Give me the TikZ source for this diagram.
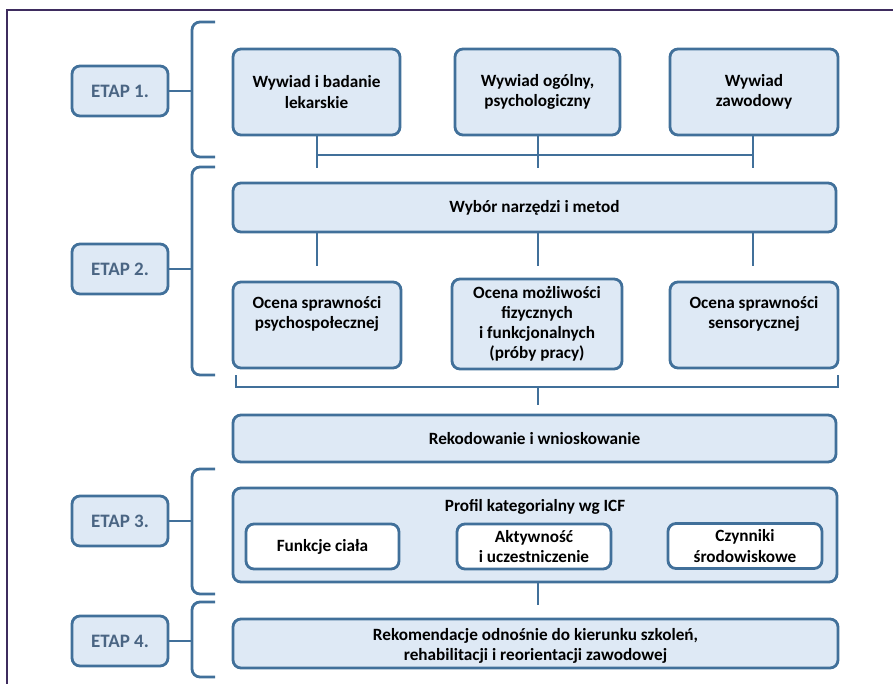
\documentclass[tikz,border=0pt]{standalone}
\usepackage{fontspec}
\setmainfont{Carlito}
\definecolor{lineblue}{HTML}{41709A}
\definecolor{fillblue}{HTML}{DEE9F5}
\definecolor{etapcol}{HTML}{4A6583}
\definecolor{framepurple}{HTML}{3E2C5E}
\begin{document}
\begin{tikzpicture}[x=1pt,y=-1pt,
  txt/.style={align=center,font=\fontsize{17.2}{20.5}\selectfont\bfseries,inner sep=2pt},
  box/.style={draw=lineblue,line width=2.8pt,fill=fillblue,rounded corners=8pt,txt},
  etapbox/.style={box,minimum width=96pt,minimum height=50pt,text=etapcol,
    font=\fontsize{19}{22}\selectfont\bfseries},
  subbox/.style={box,fill=white,minimum width=153pt,minimum height=45pt},
  conn/.style={draw=lineblue,line width=2.8pt},
  brk/.style={draw=lineblue,line width=2.8pt,rounded corners=8pt}]
\useasboundingbox (0,0) rectangle (893,684);
\draw[framepurple,line width=1.5pt] (7,684) -- (7,10) -- (893,10);

% ETAP boxes
\node[etapbox] (e1) at (120,91) {ETAP 1.};
\node[etapbox] (e2) at (120,269) {ETAP 2.};
\node[etapbox] (e3) at (120,521) {ETAP 3.};
\node[etapbox] (e4) at (120,641) {ETAP 4.};

% brackets
\draw[brk] (215,22) -- (192,22) -- (192,157) -- (215,157);
\draw[brk] (215,167) -- (192,167) -- (192,375) -- (215,375);
\draw[brk] (215,469) -- (192,469) -- (192,594) -- (215,594);
\draw[brk] (215,602) -- (192,602) -- (192,677) -- (215,677);
\coordinate (k1) at (192,91);
\coordinate (k2) at (192,269);
\coordinate (k3) at (192,521);
\coordinate (k4) at (192,641);
\draw[conn] (e1.east) -- (k1);
\draw[conn] (e2.east) -- (k2);
\draw[conn] (e3.east) -- (k3);
\draw[conn] (e4.east) -- (k4);

% stage 1
\node[box,minimum width=167pt,minimum height=86pt] (w1) at (316.5,92) {Wywiad i badanie\\lekarskie};
\node[box,minimum width=165pt,minimum height=86pt] (w2) at (537.5,92) {Wywiad ogólny,\\psychologiczny};
\node[box,minimum width=168pt,minimum height=86pt] (w3) at (754,92) {Wywiad\\zawodowy};
\coordinate (s1) at (317,168);
\coordinate (s2) at (538,168);
\coordinate (s3) at (753,168);
\draw[conn] (w1.south -| s1) -- (s1);
\draw[conn] (w2.south -| s2) -- (s2);
\draw[conn] (w3.south -| s3) -- (s3);
\draw[conn] (317,155) -- (753,155);

% stage 2
\node[box,minimum width=603pt,minimum height=49pt] (wyb) at (534.5,207.5) {Wybór narzędzi i metod};
\coordinate (t1) at (317,266);
\coordinate (t2) at (538,266);
\coordinate (t3) at (753,266);
\draw[conn] (wyb.south -| t1) -- (t1);
\draw[conn] (wyb.south -| t2) -- (t2);
\draw[conn] (wyb.south -| t3) -- (t3);

\node[box,minimum width=168pt,minimum height=86pt] (o1) at (317,325) {};
\node[txt] (o1t) at (317,314) {Ocena sprawności\\psychospołecznej};
\node[box,minimum width=170pt,minimum height=90pt,font=\fontsize{17.2}{19.8}\selectfont\bfseries] (o2) at (537,324) {Ocena możliwości\\fizycznych\\i funkcjonalnych\\(próby pracy)};
\node[box,minimum width=168pt,minimum height=86pt] (o3) at (754,325) {};
\node[txt] (o3t) at (754,314) {Ocena sprawności\\sensorycznej};

\coordinate (u0) at (538,405);
\draw[conn] (236,375) -- (236,387) -- (838,387) -- (838,375);
\draw[conn] (538,387) -- (u0);

% recoding
\node[box,minimum width=603pt,minimum height=47pt] (rek) at (534.5,438.5) {Rekodowanie i wnioskowanie};

% stage 3
\node[box,minimum width=604pt,minimum height=94pt] (prof) at (535,535) {};
\node[txt] (proft) at (535,507) {Profil kategorialny wg ICF};
\node[subbox] (f1) at (322.5,546.5) {Funkcje ciała};
\node[subbox,minimum width=154pt] (f2) at (534,546.5) {Aktywność\\i uczestniczenie};
\node[subbox,minimum width=154pt] (f3) at (745,546) {Czynniki\\środowiskowe};

\coordinate (v0) at (538,605);
\draw[conn] (prof.south -| v0) -- (v0);

% stage 4
\node[box,minimum width=605pt,minimum height=49pt] (rekom) at (535.5,643.5) {};
\node[txt] (rekomt) at (535.5,646) {Rekomendacje odnośnie do kierunku szkoleń,\\rehabilitacji i reorientacji zawodowej};
\end{tikzpicture}
\end{document}
